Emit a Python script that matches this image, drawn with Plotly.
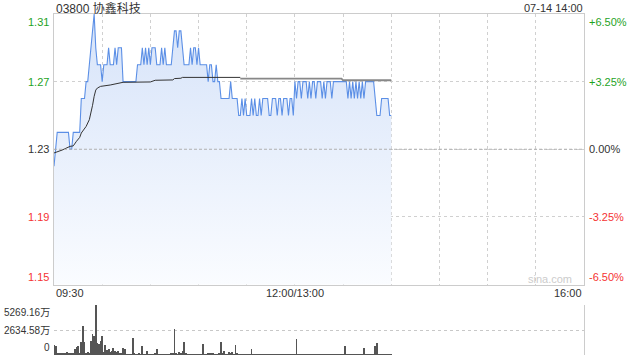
import plotly.graph_objects as go

# ---------------- data ----------------
title_text = "03800 协鑫科技"
stamp_text = "07-14 14:00"
prev_close = 1.23
price_ticks = [1.31, 1.27, 1.23, 1.19, 1.15]
time_labels = ["09:30", "12:00/13:00", "16:00"]
time_label_pos = [0, 150, 330]          # minutes from 09:30 (lunch break removed)
session_minutes = 330

price = [
    1.22, 1.23, 1.24, 1.24, 1.24, 1.24, 1.24, 1.24, 1.24, 1.24,
    1.23, 1.23, 1.24, 1.24, 1.24, 1.24, 1.24, 1.26, 1.26, 1.26,
    1.27, 1.27, 1.28, 1.29, 1.30, 1.31, 1.29, 1.28, 1.28, 1.28,
    1.27, 1.28, 1.28, 1.28, 1.29, 1.28, 1.28, 1.28, 1.29, 1.28,
    1.29, 1.29, 1.29, 1.27, 1.27, 1.27, 1.27, 1.27, 1.27, 1.27,
    1.27, 1.27, 1.28, 1.28, 1.28, 1.29, 1.28, 1.29, 1.28, 1.29,
    1.28, 1.29, 1.29, 1.29, 1.28, 1.28, 1.28, 1.29, 1.28, 1.29,
    1.28, 1.28, 1.28, 1.28, 1.29, 1.30, 1.30, 1.29, 1.30, 1.30,
    1.29, 1.28, 1.28, 1.28, 1.28, 1.29, 1.28, 1.29, 1.29, 1.28,
    1.29, 1.28, 1.28, 1.28, 1.28, 1.28, 1.27, 1.28, 1.28, 1.27,
    1.27, 1.28, 1.27, 1.27, 1.26, 1.26, 1.26, 1.26, 1.26, 1.26,
    1.27, 1.26, 1.26, 1.26, 1.26, 1.25, 1.25, 1.26, 1.25, 1.26,
    1.25, 1.25, 1.25, 1.26, 1.25, 1.26, 1.25, 1.25, 1.26, 1.25,
    1.26, 1.26, 1.26, 1.26, 1.25, 1.25, 1.26, 1.26, 1.26, 1.25,
    1.26, 1.26, 1.25, 1.26, 1.26, 1.26, 1.25, 1.26, 1.26, 1.25,
    1.27, 1.26, 1.27, 1.27, 1.26, 1.27, 1.27, 1.27, 1.26, 1.27,
    1.26, 1.27, 1.27, 1.26, 1.27, 1.27, 1.27, 1.26, 1.27, 1.26,
    1.27, 1.27, 1.27, 1.26, 1.27, 1.27, 1.27, 1.27, 1.27, 1.27,
    1.27, 1.27, 1.27, 1.26, 1.27, 1.26, 1.27, 1.26, 1.27, 1.26,
    1.27, 1.26, 1.27, 1.26, 1.27, 1.27, 1.27, 1.27, 1.27, 1.27,
    1.26, 1.25, 1.25, 1.25, 1.26, 1.26, 1.26, 1.26, 1.26, 1.25, 1.25,
]

# average price line (read at turning points)
avg_min_a = [0, 5, 10, 12, 14, 16, 17, 19, 20, 22, 23, 24, 25, 26, 27, 29, 35, 39, 43, 60, 63, 74, 75, 79, 80, 116]
avg_val_a = [1.2278, 1.2295, 1.2317, 1.2320, 1.2347, 1.2370, 1.2396, 1.2420, 1.2435, 1.2475,
             1.2514, 1.2560, 1.2613, 1.2650, 1.2662, 1.2672, 1.2680, 1.2688, 1.2696, 1.2698,
             1.2708, 1.2710, 1.2718, 1.2720, 1.2725, 1.2725]
avg_min_b = [116, 179, 180, 210]
avg_val_b = [1.2718, 1.2718, 1.2708, 1.2708]

# volume per minute, in 万
volume = [
    1054, 1000, 150, 120, 180, 130, 220, 150, 300, 200,
    160, 250, 180, 660, 840, 950, 200, 1370, 3060, 1370,
    250, 300, 220, 1475, 2180, 2000, 5269.16, 1300, 1200, 1475,
    2000, 300, 1050, 510, 620, 300, 450, 700, 450, 350,
    450, 210, 150, 770, 660, 100, 80, 60, 90, 1760,
    120, 80, 60, 150, 80, 950, 100, 60, 450, 80,
    70, 90, 60, 120, 660, 80, 60, 50, 70, 60,
    40, 80, 60, 120, 150, 2700, 200, 100, 300, 120,
    450, 1370, 150, 80, 60, 70, 90, 50, 60, 80,
    100, 70, 90, 1160, 100, 80, 150, 120, 200, 180,
    80, 90, 60, 150, 1370, 200, 400, 100, 80, 300,
    120, 350, 80, 1050, 200, 100, 60, 80, 50, 70,
    60, 80, 90, 660, 70, 60, 50, 80, 60, 70,
    90, 60, 50, 80, 70, 60, 50, 90, 60, 70,
    80, 50, 60, 70, 90, 60, 50, 80, 60, 70,
    100, 1690, 80, 60, 70, 50, 90, 60, 80, 70,
    60, 50, 80, 70, 60, 90, 50, 60, 80, 70,
    60, 50, 90, 70, 60, 80, 50, 70, 60, 90,
    80, 950, 60, 70, 50, 80, 60, 70, 90, 60,
    80, 50, 60, 740, 70, 60, 80, 50, 90, 60,
    950, 1230, 80, 60, 70, 90, 60, 50, 80, 60, 70,
]

minutes = list(range(len(price)))
vol_max = max(volume)

# ---------------- styles ----------------
FONT = "Liberation Sans, Arial, Noto Sans CJK SC, sans-serif"
GREEN = "#1fa31f"
RED = "#f53333"
DARK = "#333333"
GRID = "#d0d0d0"
BORDER = "#cccccc"

fig = go.Figure()

fig.add_trace(go.Scatter(
    x=minutes, y=price, mode="lines",
    line=dict(color="#5b8fe6", width=1.1),
    fill="tozeroy",
    fillgradient=dict(type="vertical", start=price_ticks[-1], stop=price_ticks[0],
                      colorscale=[[0, "rgba(250,252,255,1)"], [1, "rgba(214,227,249,1)"]]),
    hoverinfo="skip", xaxis="x", yaxis="y",
))
fig.add_trace(go.Scatter(
    x=avg_min_a, y=avg_val_a, mode="lines",
    line=dict(color="#333333", width=1),
    hoverinfo="skip", xaxis="x", yaxis="y",
))
fig.add_trace(go.Scatter(
    x=avg_min_b, y=avg_val_b, mode="lines",
    line=dict(color="#888888", width=1.8),
    hoverinfo="skip", xaxis="x", yaxis="y",
))
fig.add_trace(go.Bar(
    x=minutes, y=volume, width=0.55,
    marker=dict(color="#555555", line=dict(width=0)),
    hoverinfo="skip", xaxis="x2", yaxis="y2",
))

W, H = 640, 360
x0, x1 = 54 / W, 584 / W
price_dom = [1 - 284.5 / H, 1 - 14 / H]
vol_dom = [1 - 355 / H, 1 - 305 / H]

fig.update_layout(
    width=W, height=H, margin=dict(l=0, r=0, t=0, b=0),
    paper_bgcolor="white", plot_bgcolor="rgba(0,0,0,0)",
    showlegend=False, bargap=0,
    font=dict(family=FONT, size=11, color=DARK),
    xaxis=dict(domain=[x0, x1], range=[0, session_minutes], dtick=30, tick0=0,
               showgrid=True, gridcolor=GRID, griddash="dot", gridwidth=1,
               showline=True, linecolor=BORDER, mirror=True,
               showticklabels=False, ticks="", zeroline=False, fixedrange=True),
    yaxis=dict(domain=price_dom, range=[price_ticks[-1], price_ticks[0]],
               tickvals=price_ticks, showgrid=True, gridcolor=GRID, griddash="dot",
               showline=True, linecolor=BORDER, mirror=True,
               showticklabels=False, ticks="", zeroline=False, fixedrange=True),
    xaxis2=dict(domain=[x0, x1], range=[0, session_minutes], anchor="y2",
                showgrid=False, showline=False, showticklabels=False, ticks="",
                zeroline=False, fixedrange=True),
    yaxis2=dict(domain=vol_dom, range=[0, vol_max], anchor="x2", side="right",
                tickvals=[0, vol_max / 2, vol_max], showgrid=True, gridcolor="#c8c8c8",
                griddash="dot", showline=True, linecolor=BORDER,
                showticklabels=False, ticks="", zeroline=False, fixedrange=True),
)

# previous close dashed line
fig.add_shape(type="line", xref="x", yref="y", x0=0, x1=session_minutes,
              y0=prev_close, y1=prev_close,
              line=dict(color="#b0b0b0", width=1, dash="3px,2px"))

ann = []
for i, v in enumerate(price_ticks):
    col = GREEN if v > prev_close else (RED if v < prev_close else DARK)
    pct = (v - prev_close) / prev_close * 100
    ptxt = ("+" if pct > 0.0001 else "") + f"{pct:.2f}%"
    ya = "top" if i == 0 else ("bottom" if i == len(price_ticks) - 1 else "middle")
    ann.append(dict(xref="paper", yref="y", x=51 / W, y=v, text=f"{v:.2f}",
                    xanchor="right", yanchor=ya, showarrow=False,
                    font=dict(color=col, size=11)))
    ann.append(dict(xref="paper", yref="y", x=587 / W, y=v, text=ptxt,
                    xanchor="left", yanchor=ya, showarrow=False,
                    font=dict(color=col, size=11)))

vol_tick_vals = [vol_max, vol_max / 2, 0]
vol_tick_txt = [f"{vol_max:.2f}万", f"{vol_max / 2:.2f}万", "0"]
for i, (v, t) in enumerate(zip(vol_tick_vals, vol_tick_txt)):
    ya = "top" if i == 0 else ("bottom" if i == 2 else "middle")
    ann.append(dict(xref="paper", yref="y2", x=52 / W, y=v, text=t,
                    xanchor="right", yanchor=ya, showarrow=False,
                    font=dict(color=DARK, size=10)))

anchors = ["left", "center", "right"]
for t, p, a in zip(time_labels, time_label_pos, anchors):
    ann.append(dict(xref="x", yref="paper", x=p, y=1 - 293 / H, text=t,
                    xanchor=a, yanchor="middle", showarrow=False,
                    font=dict(color=DARK, size=11)))

ann.append(dict(xref="paper", yref="paper", x=54 / W, y=1 - 8 / H, text=title_text,
                xanchor="left", yanchor="middle", showarrow=False,
                font=dict(color=DARK, size=12)))
ann.append(dict(xref="paper", yref="paper", x=585 / W, y=1 - 8 / H, text=stamp_text,
                xanchor="right", yanchor="middle", showarrow=False,
                font=dict(color=DARK, size=11)))
ann.append(dict(xref="paper", yref="paper", x=574 / W, y=1 - 279 / H, text="sina.com",
                xanchor="right", yanchor="middle", showarrow=False,
                font=dict(color="#cccccc", size=11)))

fig.update_layout(annotations=ann)
fig.write_html("out.html")
